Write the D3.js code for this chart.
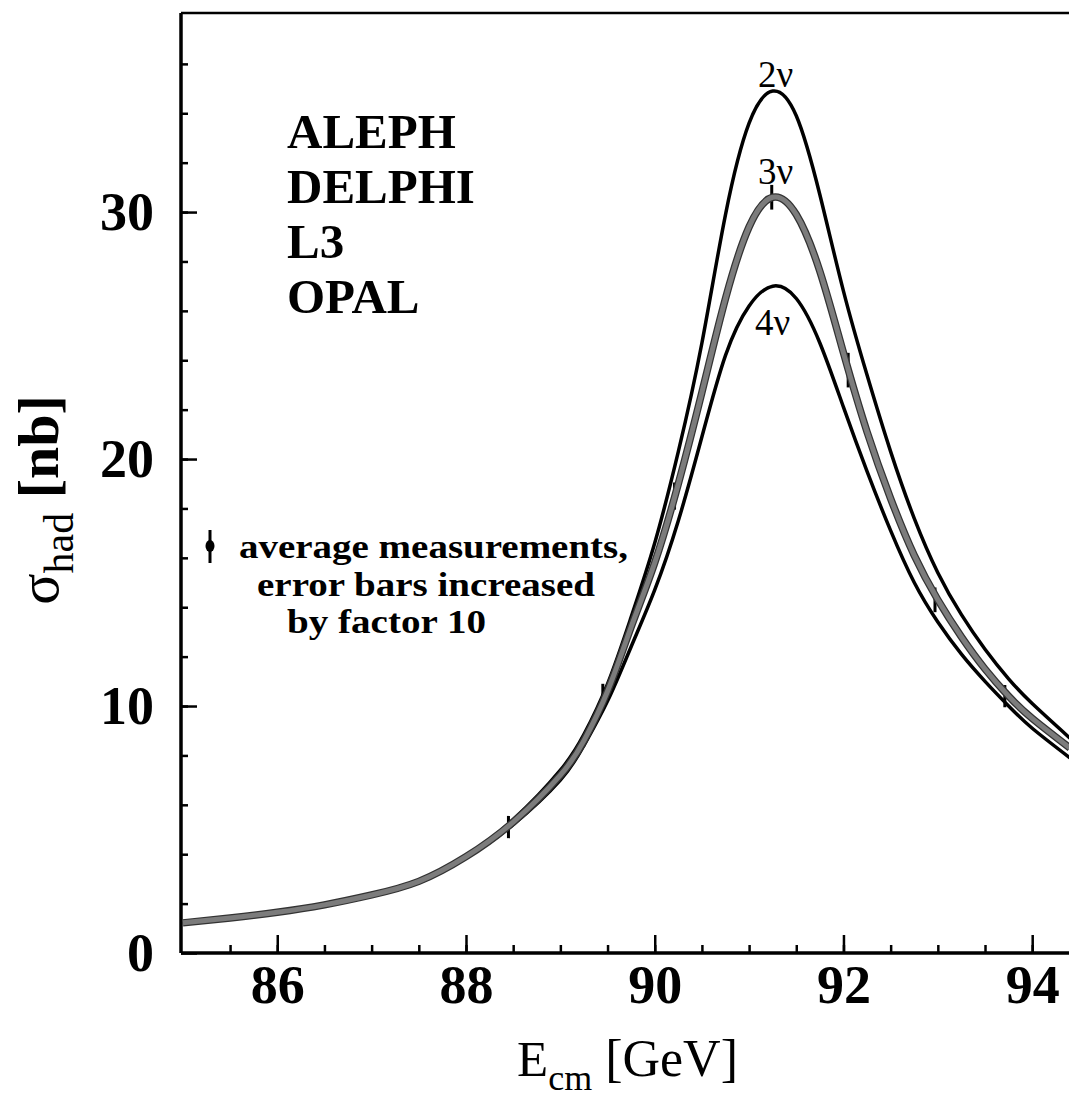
<!DOCTYPE html>
<html>
<head>
<meta charset="utf-8">
<script src="https://cdn.jsdelivr.net/npm/d3@7"></script>
<style>
  html, body { margin: 0; padding: 0; background: #fff; }
  svg { display: block; }
  text { font-family: "Liberation Serif", "Times New Roman", serif; fill: #000; }
</style>
</head>
<body>
<svg id="chart" width="1069" height="1097"></svg>
<script>
// ---- data ----
const energies = [85, 85.5, 86, 86.5, 87, 87.5, 88, 88.5, 89, 89.25, 89.5, 89.75, 90, 90.25, 90.5, 90.75, 91, 91.25, 91.5, 91.75, 92, 92.25, 92.5, 92.75, 93, 93.25, 93.5, 93.75, 94, 94.4];
const sigma2nu = [1.25, 1.45, 1.68, 1.98, 2.38, 2.95, 3.95, 5.4, 7.4, 8.85, 10.9, 13.6, 16.6, 20.3, 24.7, 29.9, 33.6, 34.9, 33.9, 30.7, 26.8, 23.4, 20.3, 17.6, 15.4, 13.7, 12.3, 11.1, 10.1, 8.7];
const sigma3nu = [1.22, 1.42, 1.65, 1.95, 2.35, 2.9, 3.9, 5.3, 7.2, 8.6, 10.6, 13.2, 15.8, 19.0, 22.7, 26.5, 29.4, 30.6, 29.9, 27.6, 24.3, 21.1, 18.4, 16.1, 14.3, 12.8, 11.5, 10.4, 9.5, 8.3];
const sigma4nu = [1.2, 1.4, 1.62, 1.92, 2.32, 2.85, 3.85, 5.2, 7.0, 8.4, 10.2, 12.4, 14.7, 17.5, 20.9, 24.2, 26.2, 27.0, 26.5, 24.7, 22.1, 19.5, 17.1, 15.0, 13.4, 12.1, 11.0, 10.0, 9.1, 7.9];
const curveLabels = ["2ν", "3ν", "4ν"];

const measE = [88.45, 89.45, 90.21, 91.24, 92.05, 92.97, 93.71];
const measSigma = [5.1, 10.4, 18.5, 30.6, 23.6, 14.3, 10.4];
const measErr = [0.45, 0.5, 0.55, 0.5, 0.7, 0.5, 0.45];

const experiments = ["ALEPH", "DELPHI", "L3", "OPAL"];
const legendLines = ["average measurements,", "error bars increased", "by factor 10"];

const xMajorTicks = [86, 88, 90, 92, 94];
const xMinorTicks = d3.range(85.5, 94.4, 0.5);
const yMajorTicks = [0, 10, 20, 30];
const yMinorTicks = d3.range(2, 38, 2);

// ---- layout ----
const svg = d3.select("#chart");
const pLeft = 181, pRight = 1069, pTop = 13, pBottom = 953;
const x = d3.scaleLinear().domain([84.98, 94.39]).range([pLeft, pRight]);
const y = d3.scaleLinear().domain([0, 38.06]).range([pBottom, pTop]);

svg.append("defs").append("clipPath").attr("id", "plotclip")
  .append("rect").attr("x", pLeft).attr("y", pTop).attr("width", pRight - pLeft).attr("height", pBottom - pTop);

// frame: top line
svg.append("line").attr("x1", pLeft).attr("x2", pRight).attr("y1", pTop).attr("y2", pTop)
  .attr("stroke", "#000").attr("stroke-width", 2.5);

// x axis
const xMinor = svg.append("g").attr("transform", `translate(0,${pBottom})`)
  .call(d3.axisBottom(x).tickValues(xMinorTicks).tickSize(-8).tickFormat(""));
const xMajor = svg.append("g").attr("transform", `translate(0,${pBottom})`)
  .call(d3.axisBottom(x).tickValues(xMajorTicks).tickSize(-18).tickPadding(12).tickFormat(d3.format("d")));
// y axis
const yMinor = svg.append("g").attr("transform", `translate(${pLeft},0)`)
  .call(d3.axisLeft(y).tickValues(yMinorTicks).tickSize(-7).tickFormat(""));
const yMajor = svg.append("g").attr("transform", `translate(${pLeft},0)`)
  .call(d3.axisLeft(y).tickValues(yMajorTicks).tickSize(-16).tickPadding(27).tickFormat(d3.format("d")));

[xMinor, xMajor, yMinor, yMajor].forEach(g => {
  g.selectAll(".domain").attr("stroke", "#000").attr("stroke-width", 3.5);
  g.selectAll(".tick line").attr("stroke", "#000").attr("stroke-width", 2.5);
  g.selectAll(".tick text")
    .attr("font-family", '"Liberation Serif", "Times New Roman", serif')
    .attr("font-size", 54).attr("font-weight", "bold").attr("fill", "#000");
});
xMinor.select(".domain").remove();
yMinor.select(".domain").remove();
xMajor.select(".domain").attr("d", `M${pLeft},0H${pRight}`);
yMajor.select(".domain").attr("d", `M0,${pTop}V${pBottom}`);

// curves
const line = d3.line().x(d => x(d[0])).y(d => y(d[1])).curve(d3.curveNatural);
const plot = svg.append("g").attr("clip-path", "url(#plotclip)");
const pts = arr => energies.map((e, i) => [e, arr[i]]);

plot.append("path").datum(pts(sigma2nu)).attr("d", line)
  .attr("fill", "none").attr("stroke", "#000").attr("stroke-width", 3.5);
plot.append("path").datum(pts(sigma4nu)).attr("d", line)
  .attr("fill", "none").attr("stroke", "#000").attr("stroke-width", 3.5);

// measurements with (enlarged) error bars, partly hidden by the 3-nu band
const meas = plot.append("g");
measE.forEach((e, i) => {
  meas.append("line")
    .attr("x1", x(e)).attr("x2", x(e))
    .attr("y1", y(measSigma[i] - measErr[i])).attr("y2", y(measSigma[i] + measErr[i]))
    .attr("stroke", "#000").attr("stroke-width", 3);
});

plot.append("path").datum(pts(sigma3nu)).attr("d", line)
  .attr("fill", "none").attr("stroke", "#333").attr("stroke-width", 7.5);
plot.append("path").datum(pts(sigma3nu)).attr("d", line)
  .attr("fill", "none").attr("stroke", "#7c7c7c").attr("stroke-width", 5);

// curve labels
const labelPos = [[91.28, 87], [91.28, 184], [91.25, 335]];
curveLabels.forEach((t, i) => {
  svg.append("text").attr("x", x(labelPos[i][0])).attr("y", labelPos[i][1])
    .attr("text-anchor", "middle").attr("font-size", 37).text(t);
});

// experiments block
experiments.forEach((t, i) => {
  svg.append("text").attr("x", 287).attr("y", 148 + i * 55)
    .attr("font-size", 49).attr("font-weight", "bold").text(t);
});

// legend
svg.append("line").attr("x1", 210).attr("x2", 210).attr("y1", 530).attr("y2", 563)
  .attr("stroke", "#000").attr("stroke-width", 3);
svg.append("ellipse").attr("cx", 210).attr("cy", 546).attr("rx", 4.5).attr("ry", 6).attr("fill", "#000");
const legendX = [239, 257, 287];
const legendW = [389, 338, 199];
legendLines.forEach((t, i) => {
  svg.append("text").attr("x", legendX[i]).attr("y", 558 + i * 37.5)
    .attr("font-size", 34).attr("font-weight", "bold")
    .attr("textLength", legendW[i]).attr("lengthAdjust", "spacingAndGlyphs").text(t);
});

// x title
const xt = svg.append("text").attr("x", 517).attr("y", 1076);
xt.append("tspan").attr("font-size", 51).text("E");
xt.append("tspan").attr("font-size", 36).attr("dy", 14).text("cm");
xt.append("tspan").attr("font-size", 52).attr("dy", -14).text(" [GeV]");

// y title
const yt = svg.append("text").attr("transform", "translate(58,500) rotate(-90)").attr("text-anchor", "middle");
yt.append("tspan").attr("font-size", 58).text("σ");
yt.append("tspan").attr("font-size", 42).attr("dy", 15).text("had");
yt.append("tspan").attr("font-size", 58).attr("dy", -15).attr("font-weight", "bold").text(" [nb]");
</script>
</body>
</html>
